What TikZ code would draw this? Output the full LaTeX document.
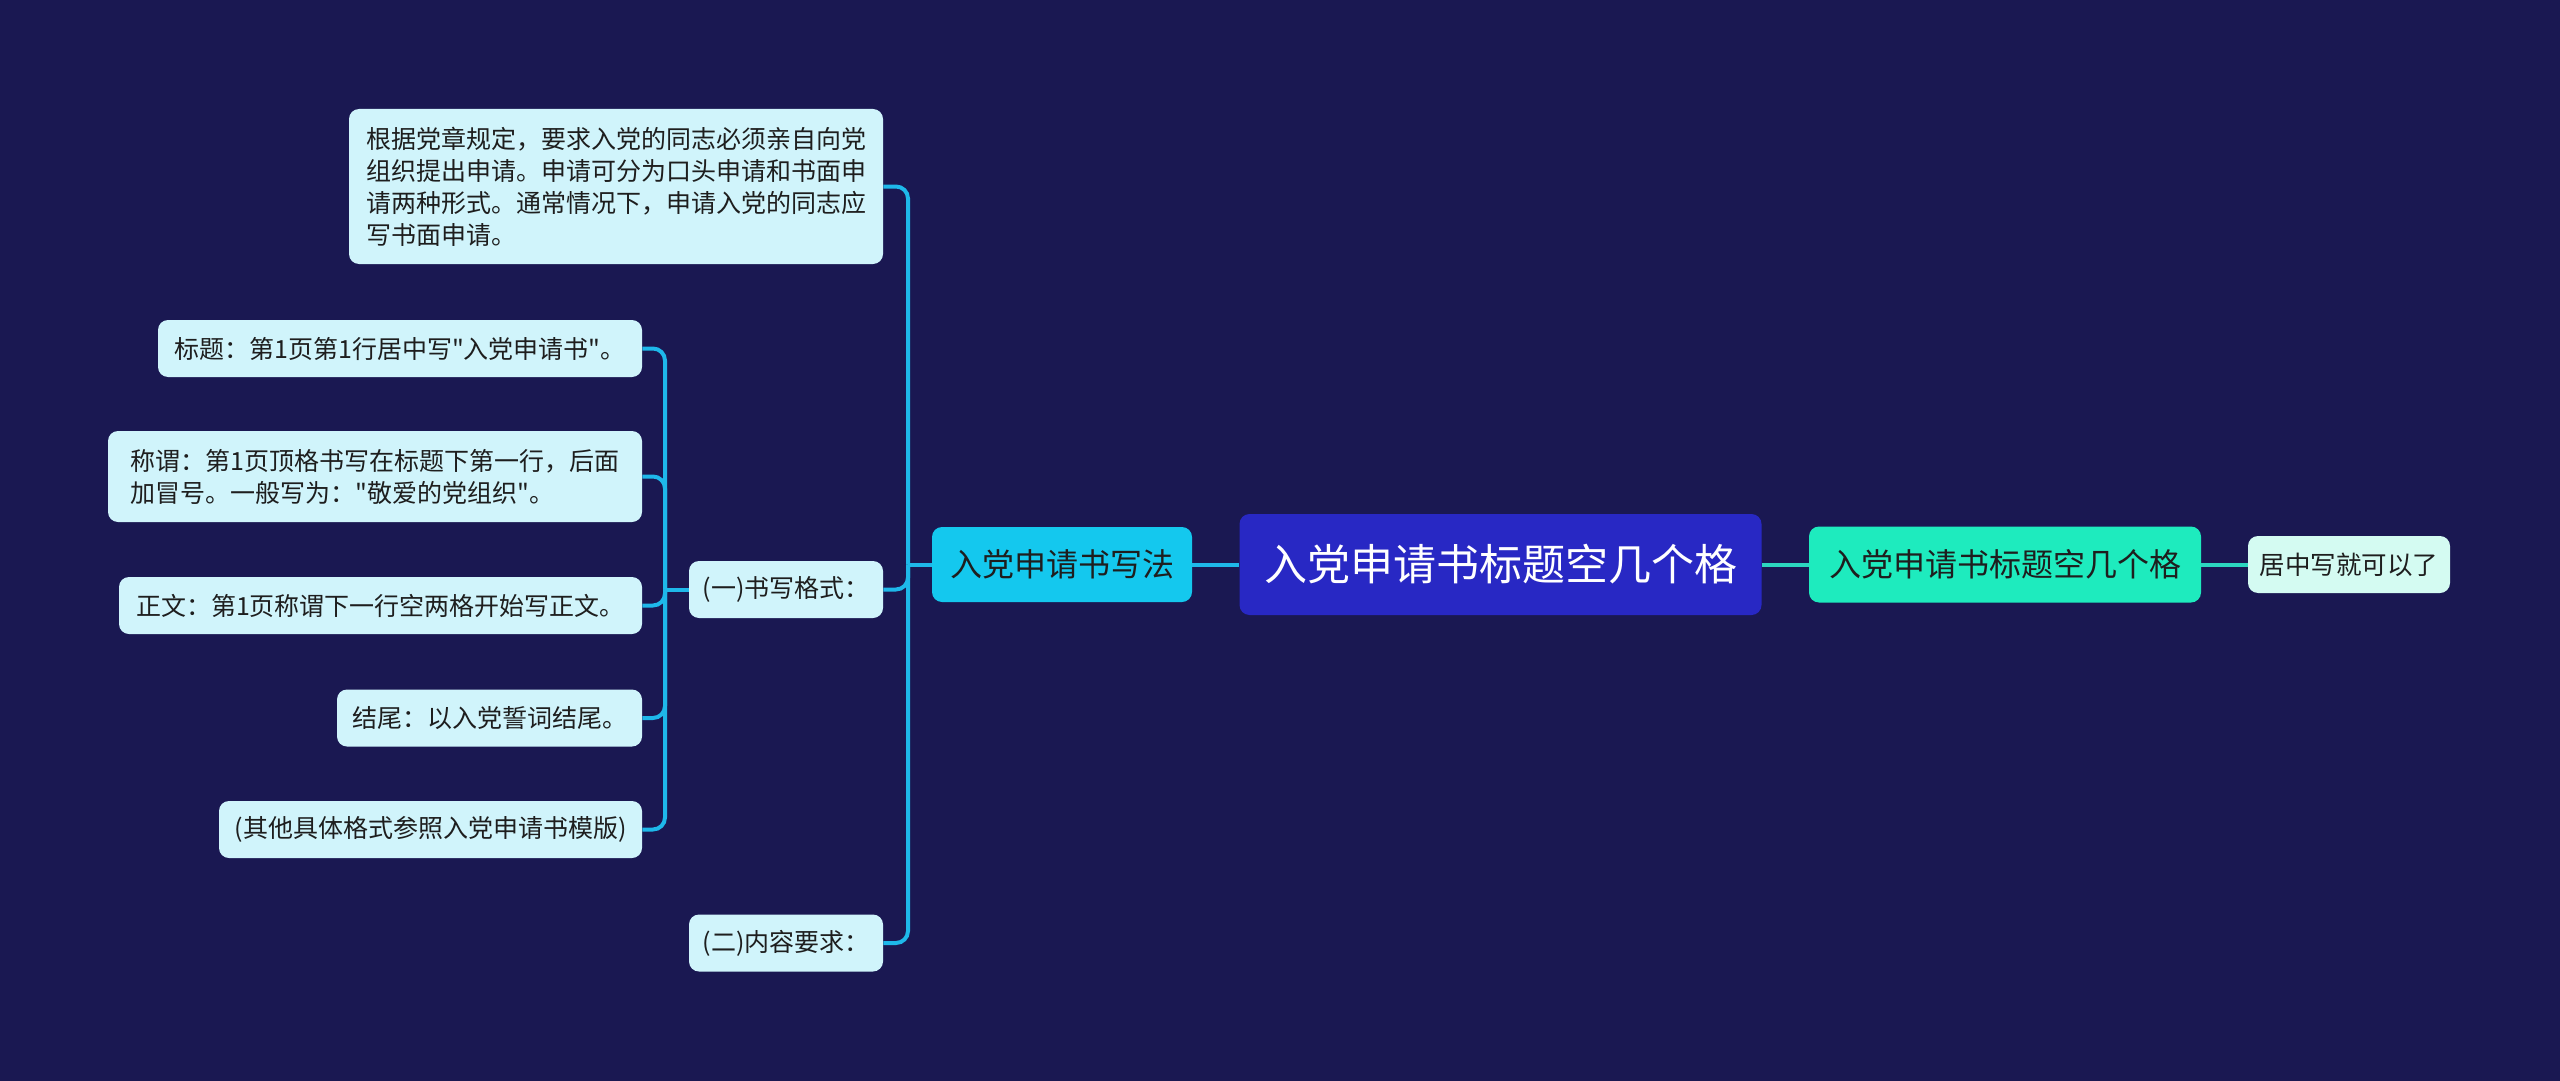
\documentclass[tikz,border=0pt]{standalone}
\usepackage{fontspec}
\setmainfont{Noto Sans CJK SC}[Ligatures=TeXOff]
\definecolor{bg}{HTML}{1A1852}
\definecolor{rootfill}{HTML}{2828C4}
\definecolor{lcfill}{HTML}{14C8EE}
\definecolor{rcfill}{HTML}{1EEBBE}
\definecolor{leaffill}{HTML}{D4FBF2}
\definecolor{lleaf}{HTML}{D0F4FB}
\definecolor{lline}{HTML}{1EB8EA}
\definecolor{rline}{HTML}{2CD6C0}
\definecolor{txt}{HTML}{1E1E1E}
\begin{document}
\begin{tikzpicture}[x=0.5pt,y=-0.5pt,
  box/.style={rounded corners=5pt, inner sep=0pt, text=txt},
  small/.style={box, fill=lleaf, font=\fontsize{12.5pt}{16pt}\selectfont, minimum height=28.5pt},
  lconn/.style={draw=lline, line width=2pt, rounded corners=6pt},
  rconn/.style={draw=rline, line width=2pt}]
\fill[bg] (0,0) rectangle (2560,1081);
\useasboundingbox (0,0) rectangle (2560,1081);

% main nodes
\node[box, fill=rootfill, text=white, font=\fontsize{21.5pt}{26pt}\selectfont,
      minimum width=261pt, minimum height=50.5pt] (root) at (1500.5,564.5) {入党申请书标题空几个格};
\node[box, fill=lcfill, font=\fontsize{16pt}{20pt}\selectfont,
      minimum width=130pt, minimum height=37.5pt] (lc) at (1062,564.5) {入党申请书写法};
\node[box, fill=rcfill, font=\fontsize{16pt}{20pt}\selectfont,
      minimum width=196pt, minimum height=38pt] (rc) at (2005,564.5) {入党申请书标题空几个格};
\node[box, fill=leaffill, font=\fontsize{12.75pt}{16pt}\selectfont,
      minimum width=101pt, minimum height=28.5pt] (leaf) at (2349,564.5) {居中写就可以了};

% left second level
\node[small, minimum width=267pt, minimum height=77.5pt, align=left] (para) at (616,186.5)
  {根据党章规定，要求入党的同志必须亲自向党\\组织提出申请。申请可分为口头申请和书面申\\请两种形式。通常情况下，申请入党的同志应\\写书面申请。};
\node[small, minimum width=97pt] (sx) at (786,589.5) {(一)书写格式：};
\node[small, minimum width=97pt] (nr) at (786,943) {(二)内容要求：};

% left third level
\node[small, minimum width=242pt] (bt) at (400,348.5) {标题：第1页第1行居中写"入党申请书"。};
\node[small, minimum width=267pt, minimum height=45.5pt, align=left] (cw) at (375,476.5)
  {称谓：第1页顶格书写在标题下第一行，后面\\加冒号。一般写为："敬爱的党组织"。};
\node[small, minimum width=261.5pt] (zw) at (380.5,605.5) {正文：第1页称谓下一行空两格开始写正文。};
\node[small, minimum width=152.5pt] (jw) at (489.5,718) {结尾：以入党誓词结尾。};
\node[small, minimum width=211.5pt] (qt) at (430.5,829.5) {(其他具体格式参照入党申请书模版)};

% connectors
\coordinate (lt) at (908,564.5);
\coordinate (st) at (665,589.5);
\draw[lconn] (root.west) -- (lc.east);
\draw[lconn] (lc.west) -- (lt);
\draw[lconn] (lt) |- (para.east);
\draw[lconn] (lt) |- (sx.east);
\draw[lconn] (lt) |- (nr.east);
\draw[lconn] (sx.west) -- (st);
\draw[lconn] (st) |- (bt.east);
\draw[lconn] (st) |- (cw.east);
\draw[lconn] (st) |- (zw.east);
\draw[lconn] (st) |- (jw.east);
\draw[lconn] (st) |- (qt.east);
\draw[rconn] (root.east) -- (rc.west);
\draw[rconn] (rc.east) -- (leaf.west);
\end{tikzpicture}
\end{document}
